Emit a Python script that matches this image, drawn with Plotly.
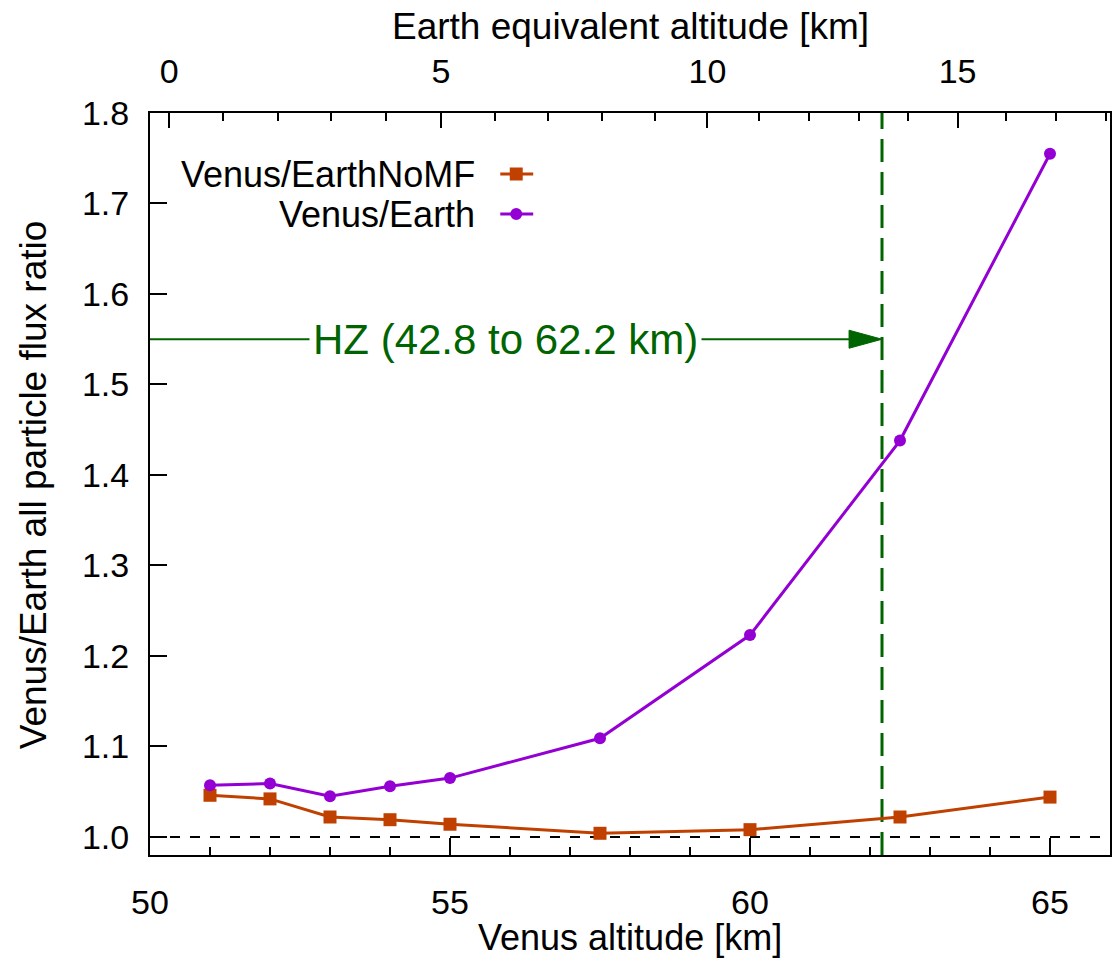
import plotly.graph_objects as go

# ---------------- data ----------------
venus_alt_km = [51, 52, 53, 54, 55, 57.5, 60, 62.5, 65]
ratio_nomf = [1.046, 1.042, 1.022, 1.019, 1.014, 1.004, 1.008, 1.022, 1.044]
ratio_mf = [1.057, 1.059, 1.045, 1.056, 1.065, 1.109, 1.223, 1.438, 1.755]
series_names = ["Venus/EarthNoMF", "Venus/Earth"]
series_colors = ["#C04000", "#9400D3"]

# top axis: Earth equivalent altitude (km) and where it sits on the Venus altitude scale
earth_alt_ticks = list(range(0, 19))
earth_alt_on_venus = [50.32, 51.21, 52.13, 53.02, 53.94, 54.85, 55.75, 56.64, 57.54,
                      58.42, 59.29, 60.15, 60.98, 61.81, 62.64, 63.46, 64.27, 65.10, 65.93]
earth_major = [0, 5, 10, 15]

hz_lower, hz_upper = 42.8, 62.2
hz_arrow_y = 1.55
hz_label_x = 55.93
reference_ratio = 1.0

x_range = [50, 66]
y_range = [0.98, 1.8]
x_major = [50, 55, 60, 65]

FONT = "Liberation Sans, Arial, sans-serif"
W, H = 1115, 961
ML, MR, MT, MB = 150, 3, 113, 106
PW, PH = W - ML - MR, H - MT - MB


def px(x):
    return (x - ML) / PW


def py(y):
    return (H - MB - y) / PH


fig = go.Figure()

# series
fig.add_trace(go.Scatter(x=venus_alt_km, y=ratio_nomf, mode="lines+markers", name=series_names[0],
                         line=dict(color=series_colors[0], width=3),
                         marker=dict(symbol="square", size=13, color=series_colors[0]),
                         showlegend=False))
fig.add_trace(go.Scatter(x=venus_alt_km, y=ratio_mf, mode="lines+markers", name=series_names[1],
                         line=dict(color=series_colors[1], width=3),
                         marker=dict(symbol="circle", size=12, color=series_colors[1]),
                         showlegend=False))
# dummy trace to register the top axis
fig.add_trace(go.Scatter(x=[None], y=[None], xaxis="x2", yaxis="y", showlegend=False, hoverinfo="skip"))

# reference line at ratio 1
fig.add_shape(type="line", xref="x", yref="y", x0=x_range[0], x1=x_range[1],
              y0=reference_ratio, y1=reference_ratio, layer="below",
              line=dict(color="black", width=2, dash="10px,10px"))
# HZ upper limit
fig.add_shape(type="line", xref="x", yref="y", x0=hz_upper, x1=hz_upper,
              y0=y_range[0], y1=y_range[1], layer="below",
              line=dict(color="#006400", width=3, dash="23px,10px"))
# HZ arrow line
head_len = 33 / PW * (x_range[1] - x_range[0])
head_half = 9 / PH * (y_range[1] - y_range[0])
fig.add_shape(type="line", xref="x", yref="y", x0=x_range[0], x1=hz_upper - head_len,
              y0=hz_arrow_y, y1=hz_arrow_y, line=dict(color="#006400", width=2))
fig.add_shape(type="path", xref="x", yref="y",
              path=f"M {hz_upper - head_len},{hz_arrow_y - head_half} L {hz_upper},{hz_arrow_y} "
                   f"L {hz_upper - head_len},{hz_arrow_y + head_half} Z",
              fillcolor="#006400", line=dict(color="#006400", width=1))
fig.add_annotation(x=hz_label_x, y=hz_arrow_y, xref="x", yref="y",
                   text=f"HZ ({hz_lower} to {hz_upper} km)", showarrow=False,
                   font=dict(family=FONT, size=42, color="#006400"),
                   bgcolor="white", borderpad=3)

# custom legend (text left of sample, gnuplot style)
leg_text_right = 478
leg_y = [174, 214]
samp_x0, samp_x1, samp_xc = 501, 534, 517
for i, name in enumerate(series_names):
    fig.add_annotation(x=px(leg_text_right), y=py(leg_y[i]), xref="paper", yref="paper",
                       text=name, showarrow=False, xanchor="right", yanchor="middle",
                       font=dict(family=FONT, size=36, color="black"))
    fig.add_shape(type="line", xref="paper", yref="paper", x0=px(samp_x0), x1=px(samp_x1),
                  y0=py(leg_y[i]), y1=py(leg_y[i]), line=dict(color=series_colors[i], width=3))
    r = 6.5 if i == 0 else 6
    fig.add_shape(type="rect" if i == 0 else "circle", xref="paper", yref="paper",
                  x0=px(samp_xc - r), x1=px(samp_xc + r), y0=py(leg_y[i] + r), y1=py(leg_y[i] - r),
                  fillcolor=series_colors[i], line=dict(color=series_colors[i], width=0))

# axis titles
fig.add_annotation(x=px((ML + W - MR) / 2), y=py(937), xref="paper", yref="paper",
                   text="Venus altitude [km]", showarrow=False, yanchor="middle",
                   font=dict(family=FONT, size=36, color="black"))
fig.add_annotation(x=px((ML + W - MR) / 2), y=py(26), xref="paper", yref="paper",
                   text="Earth equivalent altitude [km]", showarrow=False, yanchor="middle",
                   font=dict(family=FONT, size=37, color="black"))
fig.add_annotation(x=px(33), y=py(485), xref="paper", yref="paper",
                   text="Venus/Earth all particle flux ratio", showarrow=False, textangle=-90,
                   xanchor="center", yanchor="middle",
                   font=dict(family=FONT, size=37, color="black"))

tickfont = dict(family=FONT, size=34, color="black")
major_vals = [earth_alt_on_venus[earth_alt_ticks.index(e)] for e in earth_major]
minor_vals = [v for e, v in zip(earth_alt_ticks, earth_alt_on_venus) if e not in earth_major]

fig.update_layout(
    width=W, height=H, margin=dict(l=ML, r=MR, t=MT, b=MB),
    paper_bgcolor="white", plot_bgcolor="white",
    xaxis=dict(range=x_range, tickmode="array", tickvals=x_major, ticktext=[str(v) for v in x_major],
               ticks="inside", ticklen=17, tickwidth=2, tickcolor="black",
               showline=True, linecolor="black", linewidth=2, mirror=False,
               showgrid=False, zeroline=False, tickfont=tickfont, ticklabelstandoff=16,
               minor=dict(dtick=1, tick0=50, ticks="inside", ticklen=8, tickwidth=2,
                          tickcolor="black", showgrid=False)),
    xaxis2=dict(range=x_range, overlaying="x", side="top", anchor="y",
                tickmode="array", tickvals=major_vals, ticktext=[str(e) for e in earth_major],
                ticks="inside", ticklen=15, tickwidth=2, tickcolor="black",
                showline=True, linecolor="black", linewidth=2,
                showgrid=False, zeroline=False, tickfont=tickfont, ticklabelstandoff=14,
                minor=dict(tickmode="array", tickvals=minor_vals, ticks="inside", ticklen=8,
                           tickwidth=2, tickcolor="black", showgrid=False)),
    yaxis=dict(range=y_range, tickmode="array", tickvals=[1.0, 1.1, 1.2, 1.3, 1.4, 1.5, 1.6, 1.7, 1.8],
               tickformat=".1f", ticks="inside", ticklen=17, tickwidth=2, tickcolor="black",
               showline=True, linecolor="black", linewidth=2, mirror=True,
               showgrid=False, zeroline=False, tickfont=tickfont, ticklabelstandoff=12),
)

fig.write_html("out.html")
